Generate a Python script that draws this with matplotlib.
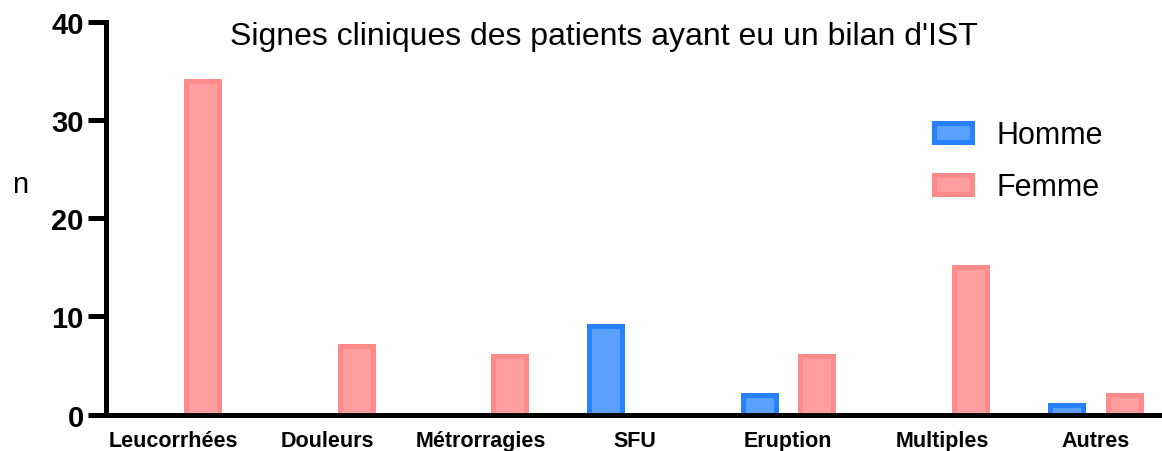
import numpy as np
import matplotlib
matplotlib.use("Agg")
import matplotlib.pyplot as plt
from matplotlib.patches import Patch

categories = ["Leucorrhées", "Douleurs", "Métrorragies", "SFU", "Eruption", "Multiples", "Autres"]
homme = [0, 0, 0, 9, 2, 0, 1]
femme = [34, 7, 6, 0, 6, 15, 2]
yticks = [0, 10, 20, 30, 40]

plt.rcParams['font.family'] = ['Liberation Sans', 'DejaVu Sans']

H_FACE, H_EDGE = "#5aa0ff", "#2680ff"
F_FACE, F_EDGE = "#ff9e9e", "#ff8a8a"

fig = plt.figure(figsize=(11.62, 4.52), dpi=100)
ax = fig.add_axes([106 / 1162, 36.3 / 452, (1160 - 106) / 1162, (415.7 - 22.7) / 452])

x = np.arange(len(categories))
off = 0.187
w = 0.215
lw = 3.6
for xi, h in zip(x, homme):
    if h > 0:
        ax.bar(xi - off, h, w, color=H_FACE, edgecolor=H_EDGE, linewidth=lw, zorder=2)
for xi, f in zip(x, femme):
    if f > 0:
        ax.bar(xi + off, f, w, color=F_FACE, edgecolor=F_EDGE, linewidth=lw, zorder=2)

ax.set_xlim(-0.441, 6.42)
ax.set_ylim(0, 40)
ax.set_yticks(yticks)
ax.set_yticklabels([str(t) for t in yticks], fontsize=21, fontweight='bold')
ax.set_xticks(x)
ax.set_xticklabels(categories, fontsize=15.5, fontweight='bold')
ax.tick_params(axis='y', length=13, width=3.6, pad=3)
ax.tick_params(axis='x', length=0, pad=11)
for s in ['top', 'right']:
    ax.spines[s].set_visible(False)
for s in ['left', 'bottom']:
    ax.spines[s].set_linewidth(3.6)
    ax.spines[s].set_zorder(3)

fig.text(604 / 1162, 1 - 37 / 452, "Signes cliniques des patients ayant eu un bilan d'IST",
         ha='center', va='center', fontsize=23)
fig.text(20 / 1162, 1 - 185 / 452, "n", ha='center', va='center', fontsize=21)

handles = [Patch(facecolor=H_FACE, edgecolor=H_EDGE, linewidth=lw, label="Homme"),
           Patch(facecolor=F_FACE, edgecolor=F_EDGE, linewidth=lw, label="Femme")]
ax.legend(handles=handles, loc='upper left', bbox_to_anchor=(906 / 1162, 1 - 94 / 452),
          bbox_transform=fig.transFigure, frameon=False, fontsize=22,
          handlelength=1.25, handleheight=0.6, handletextpad=0.8, labelspacing=0.72)

fig.savefig("out.png", dpi=100)
